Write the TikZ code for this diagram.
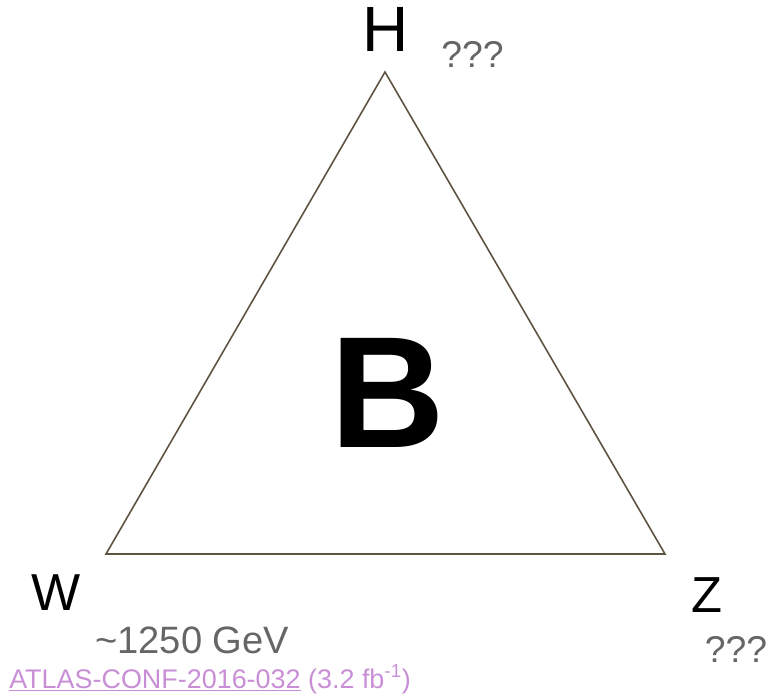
\documentclass[tikz,border=0pt]{standalone}
\usepackage{fontspec}
\setmainfont{Liberation Sans}
\definecolor{edgec}{HTML}{5F5443}
\definecolor{grayt}{HTML}{666666}
\definecolor{linkc}{HTML}{C98FD6}
\begin{document}
\begin{tikzpicture}[x=0.75pt,y=-0.75pt,
  lbl/.style={inner sep=0pt,anchor=base,text=black},
  note/.style={inner sep=0pt,anchor=base,text=grayt,font=\fontsize{28}{32}\selectfont}]
\useasboundingbox (0,0) rectangle (769,697);
\coordinate (top) at (385,72);
\coordinate (bl) at (106,554);
\coordinate (br) at (665,554);
\draw[edgec,line width=1.2pt,line join=miter] (top) -- (bl) -- (br) -- cycle;
\node[lbl,font=\fontsize{48}{52}\selectfont] (H) at (385.5,51) {H};
\node[lbl,font=\fontsize{39}{44}\selectfont] (W) at (56,610) {W};
\node[lbl,font=\fontsize{38}{42}\selectfont] (Z) at (707,612) {Z};
\node[lbl,font=\fontsize{119}{125}\selectfont\bfseries] (B) at (388,447) {B};
\node[note] (qH) at (472.5,67) {???};
\node[note] (qZ) at (736,662) {???};
\node[note,anchor=base west,font=\fontsize{28.6}{32}\selectfont] (gev) at (95,653) {\textasciitilde 1250 GeV};
\node[inner sep=0pt,anchor=base west,text=linkc,font=\fontsize{20.2}{23}\selectfont] (atlas) at (9,688) {\underline{ATLAS-CONF-2016-032} (3.2 fb\textsuperscript{-1})};
\end{tikzpicture}
\end{document}
